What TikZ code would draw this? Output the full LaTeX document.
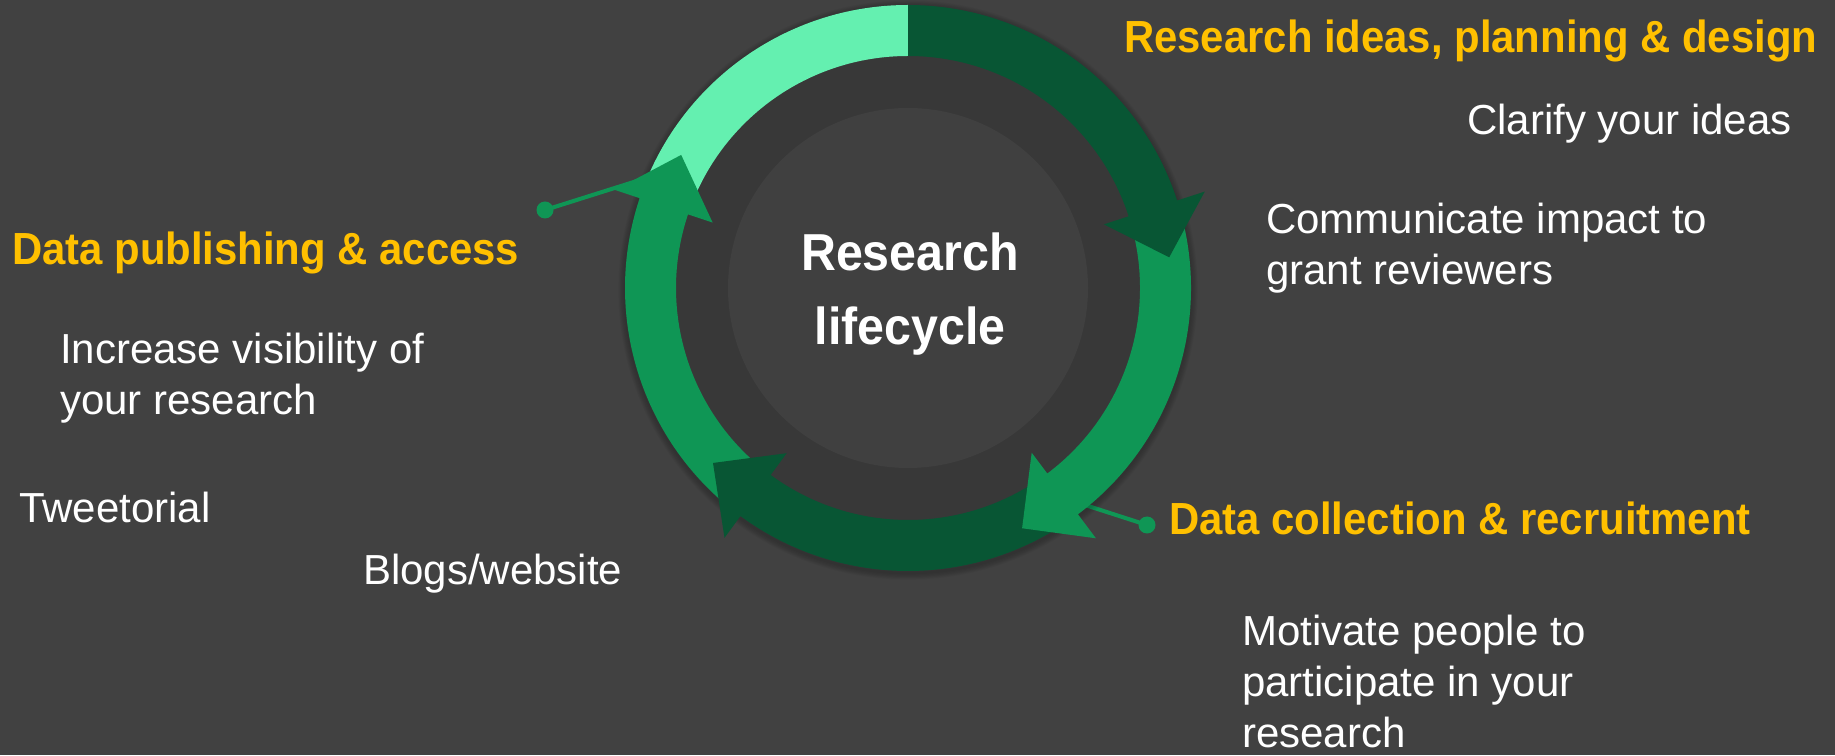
\documentclass[tikz,border=0pt]{standalone}
\usepackage{fontspec}
\setmainfont{Liberation Sans}
\newfontfamily\headfont[FakeStretch=0.93]{Liberation Sans}
\definecolor{bg}{RGB}{65,65,65}
\definecolor{band}{RGB}{56,56,56}
\definecolor{disc}{RGB}{64,64,64}
\definecolor{gLight}{RGB}{100,240,176}
\definecolor{gDark}{RGB}{8,86,52}
\definecolor{gMid}{RGB}{15,150,85}
\definecolor{amber}{RGB}{255,192,0}
\begin{document}
\begin{tikzpicture}[x=1pt,y=1pt,
  stagetitle/.style={anchor=base west,inner sep=0pt,text=amber,font=\headfont\bfseries\fontsize{45}{52}\selectfont},
  bodytext/.style={anchor=base west,inner sep=0pt,text=white,align=left,font=\fontsize{42}{51}\selectfont},
  centertext/.style={anchor=base,inner sep=0pt,text=white,font=\headfont\bfseries\fontsize{52}{74}\selectfont},
  leaderdot/.style={circle,fill=gMid,inner sep=0pt,minimum size=17pt},
  leader/.style={draw=gMid,line width=4pt}]
\fill[bg] (0,0) rectangle (1835,755);
\useasboundingbox (0,0) rectangle (1835,755);

% leader lines (under the ring)
\node[leaderdot] (dpub) at (545,545) {};
\coordinate (epub) at (640,575);
\draw[leader] (dpub.center) -- (epub);
\node[leaderdot] (dcol) at (1147,230) {};
\coordinate (ecol) at (1085,250);
\draw[leader] (dcol.center) -- (ecol);

\begin{scope}[shift={(908,467)}]
  % soft shadow around the ring
  \foreach \i in {1,...,6}
    \draw[black,opacity=0.035,line width=\i*2.2pt] (0,-2) circle (283);
  \fill[band] (0,0) circle (240);
  \fill[disc] (0,0) circle (180);
  % light segment
  \fill[gLight] (161.5:283) arc[start angle=161.5,end angle=90,radius=283]
     -- (90:232) arc[start angle=90,end angle=161.5,radius=232] -- cycle;
  % medium arrow (left)
  \fill[gMid] (-126.3:283) arc[start angle=-126.3,end angle=-198.5,radius=283]
     -- (-198.5:309) -- (-210.4:263) -- (-198.5:206) -- (-198.5:232)
     arc[start angle=-198.5,end angle=-126.3,radius=232] -- cycle;
  % dark arrow (bottom)
  \fill[gDark] (-53.1:283) arc[start angle=-53.1,end angle=-126.3,radius=283]
     -- (-126.3:310) -- (-138.1:262) -- (-126.3:205) -- (-126.3:232)
     arc[start angle=-126.3,end angle=-53.1,radius=232] -- cycle;
  % medium arrow (right)
  \fill[gMid] (18:283) arc[start angle=18,end angle=-53.1,radius=283]
     -- (-53.1:313) -- (-64.6:266) -- (-53.1:206) -- (-53.1:232)
     arc[start angle=-53.1,end angle=18,radius=232] -- cycle;
  % dark arrow (top right)
  \fill[gDark] (90:283) arc[start angle=90,end angle=18,radius=283]
     -- (18:312) -- (6.7:263) -- (18:206) -- (18:232)
     arc[start angle=18,end angle=90,radius=232] -- cycle;
\end{scope}

% centre
\node[centertext] (c1) at (910,484) {Research};
\node[centertext] (c2) at (910,410) {lifecycle};

% labels (multi-line nodes are anchored at the baseline of their last line)
\node[stagetitle] (t1) at (1124,702) {Research ideas, planning \& design};
\node[bodytext] (b1) at (1467,620) {Clarify your ideas};
\node[bodytext] (b2) at (1266,470) {Communicate impact to\\grant reviewers};

\node[stagetitle] (t2) at (1169,220) {Data collection \& recruitment};
\node[bodytext] (b3) at (1242,8) {Motivate people to\\participate in your\\research};

\node[stagetitle] (t3) at (12,490) {Data publishing \& access};
\node[bodytext] (b4) at (60,340) {Increase visibility of\\your research};
\node[bodytext] (b5) at (19,232) {Tweetorial};
\node[bodytext] (b6) at (363,170) {Blogs/website};
\end{tikzpicture}
\end{document}
